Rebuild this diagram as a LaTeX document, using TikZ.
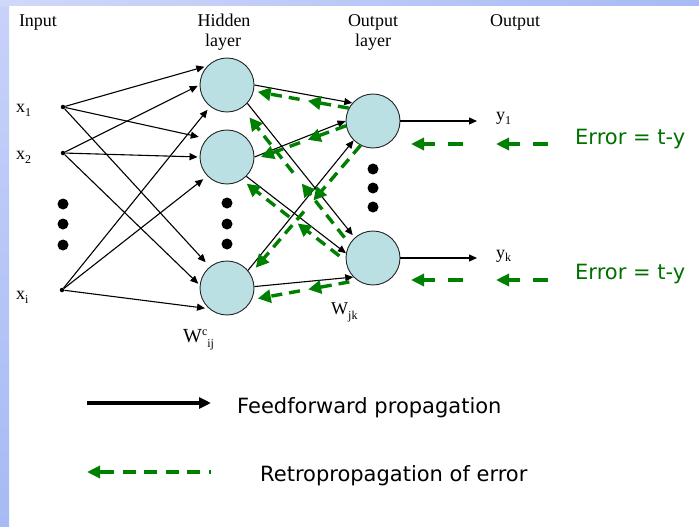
\documentclass[tikz,border=0pt]{standalone}
\usepackage{fontspec}
\setmainfont{Liberation Serif}
\newfontfamily\dejavu{DejaVu Sans}
\usetikzlibrary{arrows.meta,calc}
\definecolor{cellfill}{HTML}{BBE0E3}
\definecolor{bpgreen}{HTML}{008000}
\definecolor{errtext}{HTML}{007000}
\definecolor{bandA}{HTML}{D0D8FA}
\definecolor{bandB}{HTML}{A6BAF4}
\definecolor{bandC}{HTML}{C8D2FA}
\newcommand\lblfont{\fontsize{18}{20}\selectfont}
\newcommand\smallfnt{\fontsize{12}{12}\selectfont}
\begin{document}
\begin{tikzpicture}[x=1pt,y=-1pt,
  neuron/.style={circle,draw=black!85,line width=0.9pt,fill=cellfill,minimum size=54pt,inner sep=0pt},
  indot/.style={circle,fill=black,minimum size=4.5pt,inner sep=0pt},
  bigdot/.style={circle,fill=black,minimum size=11pt,inner sep=0pt},
  ff/.style={-{Triangle[length=8pt,width=7pt]},line width=1.1pt},
  bp/.style={bpgreen,line width=3.4pt,dash pattern=on 11pt off 7pt,-{Triangle[length=13pt,width=13pt]}},
  bpout/.style={bpgreen,line width=4pt,dash pattern=on 15pt off 13pt on 60pt,-{Triangle[length=13pt,width=12pt]}},
  lbl/.style={inner sep=0pt,anchor=base,font=\lblfont},
  sans/.style={inner sep=0pt,anchor=base west,font=\dejavu\fontsize{21}{21}\selectfont}
]
\useasboundingbox (0,0) rectangle (699,527);
\fill[white] (0,0) rectangle (699,527);
\shade[top color=bandC,bottom color=bandB] (0,0) rectangle (9,527);
\shade[left color=bandA,right color=bandB] (0,0) rectangle (699,6);

% headings
\node[lbl] (tin) at (38,27) {Input};
\node[lbl] (thid1) at (224,27) {Hidden};
\node[lbl] (thid2) at (223,47) {layer};
\node[lbl] (tout1) at (373,27) {Output};
\node[lbl] (tout2) at (373,47) {layer};
\node[lbl] (tout) at (515,27) {Output};

% input units
\node[indot] (i1) at (63,107) {};
\node[indot] (i2) at (63,153) {};
\node[indot] (i3) at (62,290) {};
\node[lbl,anchor=base west] (lx1) at (16,113) {x\raisebox{-4pt}{\smallfnt 1}};
\node[lbl,anchor=base west] (lx2) at (16,159) {x\raisebox{-4pt}{\smallfnt 2}};
\node[lbl,anchor=base west] (lx3) at (16,299) {x\raisebox{-4pt}{\smallfnt i}};

% neurons
\node[neuron] (h1) at (227,85) {};
\node[neuron] (h2) at (227,157) {};
\node[neuron] (h3) at (227,288) {};
\node[neuron] (o1) at (373,121) {};
\node[neuron] (o2) at (373,258) {};

% ellipsis dots
\foreach \yy [count=\k] in {204,224,245} \node[bigdot] (di\k) at (63,\yy) {};
\foreach \yy [count=\k] in {203,224,244} \node[bigdot] (dh\k) at (227,\yy) {};
\foreach \yy [count=\k] in {169,188,207} \node[bigdot] (do\k) at (373,\yy) {};

% feedforward input -> hidden
\draw[ff,shorten >=3pt] (i1) -- (h1.136);
\draw[ff,shorten >=8pt] (i1) -- (h2.138);
\draw[ff,shorten >=6pt] (i1) -- (h3.129);
\draw[ff,shorten >=2pt] (i2) -- (h1.180);
\draw[ff,shorten >=2pt] (i2) -- (h2.180);
\draw[ff,shorten >=2pt] (i2) -- (h3.174);
\draw[ff,shorten >=4pt] (i3) -- (h1.232);
\draw[ff,shorten >=5pt] (i3) -- (h2.224);
\draw[ff,shorten >=4pt] (i3) -- (h3.229);

% feedforward hidden -> output
\draw[ff] (h1.0) -- (o1.139);
\draw[ff] (h2.0) -- (o1.180);
\draw[ff] (h3.40) -- (o1.225);
\draw[ff,shorten >=3pt] (h1.-42) -- (o2.132);
\draw[ff] (h2.-45) -- (o2.170);
\draw[ff] (h3.3) -- (o2.224);

% outputs
\coordinate (y1e) at (477,121);
\coordinate (yke) at (477,258);
\draw[ff] (o1.east) -- (y1e);
\draw[ff] (o2.east) -- (yke);
\node[lbl,anchor=base west] (ly1) at (496,121) {y\raisebox{-3pt}{\smallfnt 1}};
\node[lbl,anchor=base west] (lyk) at (496,258) {y\raisebox{-3pt}{\smallfnt k}};

% weights
\node[lbl,anchor=base west,font=\fontsize{20}{20}\selectfont] (wij) at (183,342) {W\raisebox{7pt}{\smallfnt c}\raisebox{-5pt}{\smallfnt ij}};
\node[lbl,anchor=base west] (wjk) at (331,314) {W\raisebox{-5pt}{\smallfnt jk}};

% back-propagation inside the network
\foreach \src/\dst/\sa/\sb in {o1.152/h1.-13/0/4, o1.190/h2.-5/0/7, o1.243/h3.31/0/8,
                               o2.149/h1.-57/8/12, o2.186/h2.-57/8/6, o2.235/h3.-25/8/6}{
  \coordinate (gs) at ($(\src)!\sa pt!(\dst)$);
  \coordinate (ge) at ($(\dst)!\sb pt!(\src)$);
  \draw[bp] (gs) -- ($(gs)!0.45!(ge)$);
  \draw[bp] ($(gs)!0.54!(ge)$) -- (ge);
}

% error arrows on the right
\coordinate (e1a) at (548,144); \coordinate (e1b) at (496,144);
\coordinate (e1c) at (463,144); \coordinate (e1d) at (411,144);
\coordinate (e2a) at (548,280); \coordinate (e2b) at (496,280);
\coordinate (e2c) at (463,280); \coordinate (e2d) at (411,280);
\draw[bpout] (e1a) -- (e1b);
\draw[bpout] (e1c) -- (e1d);
\draw[bpout] (e2a) -- (e2b);
\draw[bpout] (e2c) -- (e2d);
\node[sans,text=errtext] (err1) at (575,144) {Error = t-y};
\node[sans,text=errtext] (err2) at (575,279) {Error = t-y};

% legend
\coordinate (lf1) at (87,403); \coordinate (lf2) at (211,403);
\draw[line width=3.5pt,-{Triangle[length=12pt,width=11pt]}] (lf1) -- (lf2);
\node[sans] (lft) at (237,413) {Feedforward propagation};
\coordinate (lb1) at (211,472); \coordinate (lb2) at (87,472);
\draw[bpgreen,line width=4pt,dash pattern=on 2pt off 9pt on 13pt off 8.5pt on 13pt off 8.5pt on 13pt off 8.5pt on 13pt off 9pt on 60pt,-{Triangle[length=13pt,width=12pt]}] (lb1) -- (lb2);
\node[sans] (lbt) at (260,481.5) {Retropropagation of error};
\end{tikzpicture}
\end{document}
